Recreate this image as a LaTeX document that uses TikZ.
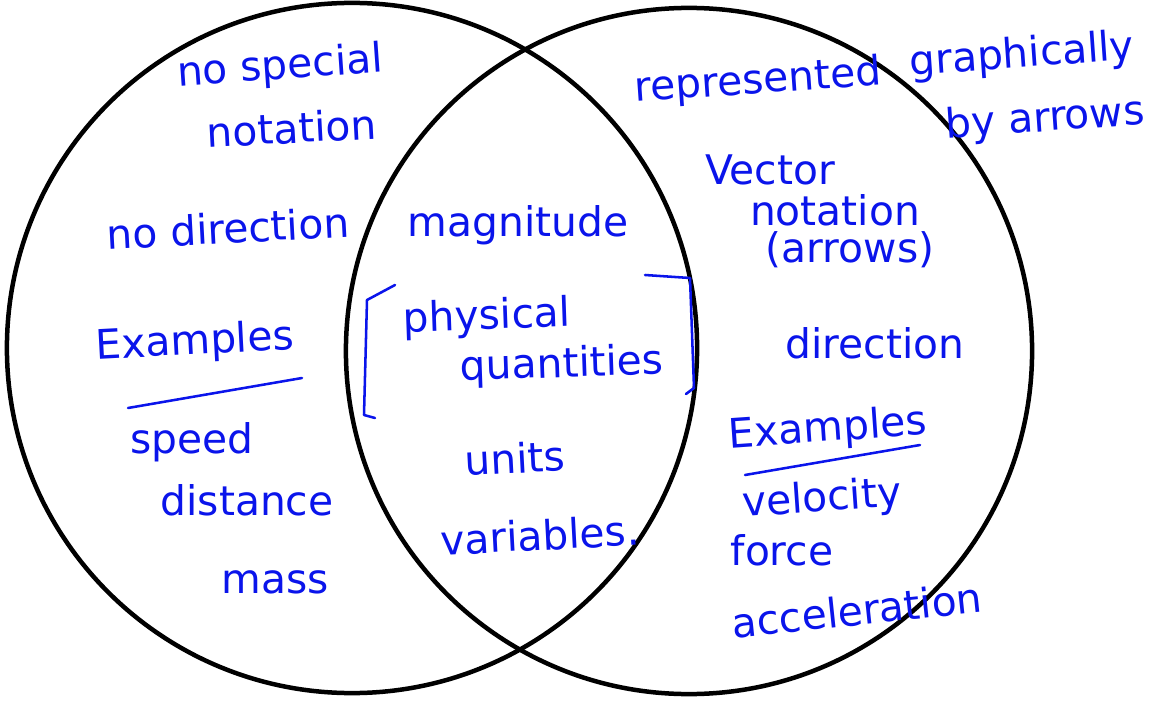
\documentclass[tikz,border=0pt]{standalone}
\usepackage{fontspec}
\setmainfont{DejaVu Sans}
\definecolor{hwblue}{RGB}{10,20,235}
\tikzset{
  hw/.style={text=hwblue, font=\fontsize{29}{31}\selectfont, inner sep=0pt, anchor=center},
  ring/.style={draw=black, line width=3.2pt},
  pen/.style={draw=hwblue, line width=1.8pt, line cap=round, line join=round}
}
\begin{document}
\begin{tikzpicture}[x=0.025cm,y=-0.025cm]
\useasboundingbox[fill=white] (0,0) rectangle (1164,702);
% circles
\draw[ring] (352,348) circle[radius=8.625cm];
\draw[ring] (689,351) circle[radius=8.575cm];
% left region
\node[hw, rotate=4] (nospecial) at (280,68) {no special};
\node[hw, rotate=3] (notation1) at (292,128) {notation};
\node[hw, rotate=3] (nodir) at (228,228) {no direction};
\node[hw, rotate=3] (ex1) at (195,343) {Examples};
\draw[pen] (128,408) -- (302,378);
\node[hw] (speed) at (192,442) {speed};
\node[hw] (distance) at (247,500) {distance};
\node[hw] (mass) at (275,582) {mass};
% middle region
\node[hw] (magnitude) at (518,225) {magnitude};
\node[hw, rotate=2] (physical) at (487,318) {physical};
\node[hw, rotate=2] (quantities) at (562,366) {quantities};
\draw[pen] (395,285) -- (367,300) -- (364,415) -- (375,418);
\draw[pen] (645,275) -- (690,278) -- (694,388) -- (686,394);
\node[hw, rotate=3] (units) at (515,458) {units};
\node[hw, rotate=3] (variables) at (540,535) {variables.};
% right region
\node[hw, rotate=4] (represented) at (758,82) {represented};
\node[hw, rotate=4] (graphically) at (1022,56) {graphically};
\node[hw, rotate=4] (byarrows) at (1045,120) {by arrows};
\node[hw] (vector) at (770,170) {Vector};
\node[hw] (notation2) at (835,210) {notation};
\node[hw] (arrows) at (850,250) {(arrows)};
\node[hw] (direction) at (875,343) {direction};
\node[hw, rotate=4] (ex2) at (828,430) {Examples};
\draw[pen] (745,475) -- (920,445);
\node[hw, rotate=4] (velocity) at (822,500) {velocity};
\node[hw] (force) at (782,550) {force};
\node[hw, rotate=6] (acceleration) at (857,610) {acceleration};
\end{tikzpicture}
\end{document}
